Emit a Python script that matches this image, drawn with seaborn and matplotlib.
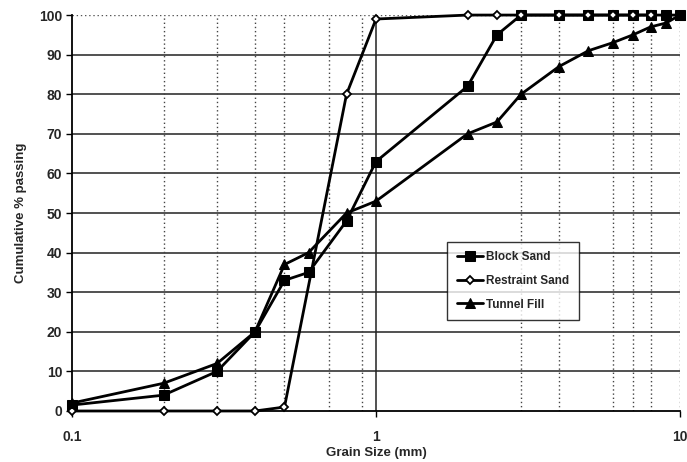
import matplotlib
matplotlib.use("Agg")
import matplotlib.pyplot as plt
import matplotlib.ticker as mticker
import seaborn as sns

# Sieve sizes (mm) and cumulative percent passing for each material
block_size = [0.1, 0.2, 0.3, 0.4, 0.5, 0.6, 0.8, 1, 2, 2.5, 3, 4, 5, 6, 7, 8, 9, 10]
block_pass = [1.5, 4, 10, 20, 33, 35, 48, 63, 82, 95, 100, 100, 100, 100, 100, 100, 100, 100]

restraint_size = [0.1, 0.2, 0.3, 0.4, 0.5, 0.8, 1, 2, 2.5, 3, 4, 5, 6, 7, 8]
restraint_pass = [0, 0, 0, 0, 1, 80, 99, 100, 100, 100, 100, 100, 100, 100, 100]

tunnel_size = [0.1, 0.2, 0.3, 0.4, 0.5, 0.6, 0.8, 1, 2, 2.5, 3, 4, 5, 6, 7, 8, 9, 10]
tunnel_pass = [2, 7, 12, 20, 37, 40, 50, 53, 70, 73, 80, 87, 91, 93, 95, 97, 98, 100]

y_ticks = list(range(0, 101, 10))
x_major = [0.1, 1, 10]
x_minor = [0.2, 0.3, 0.4, 0.5, 0.7, 0.9, 3, 4, 6, 7, 8]

sns.set_theme(style="white")
plt.rcParams["font.family"] = ["Liberation Sans", "DejaVu Sans"]
plt.rcParams["font.weight"] = "bold"

fig = plt.figure(figsize=(6.87, 4.62), dpi=100)
ax = fig.add_axes([0.1048, 0.1104, 0.885, 0.857])

common = dict(color="black", linewidth=2.0, clip_on=False, zorder=3)
sns.lineplot(x=block_size, y=block_pass, ax=ax, marker="s", markersize=6.5,
             markeredgecolor="black", markerfacecolor="black",
             label="Block Sand", **common)
sns.lineplot(x=restraint_size, y=restraint_pass, ax=ax, marker="D", markersize=4.5,
             markeredgecolor="black", markerfacecolor="white", markeredgewidth=1.3,
             label="Restraint Sand", **common)
sns.lineplot(x=tunnel_size, y=tunnel_pass, ax=ax, marker="^", markersize=7.5,
             markeredgecolor="black", markerfacecolor="black",
             label="Tunnel Fill", **common)

ax.set_xscale("log")
ax.set_xlim(0.1, 10)
ax.set_ylim(0, 100)
ax.xaxis.set_major_locator(mticker.FixedLocator(x_major))
ax.xaxis.set_major_formatter(mticker.FixedFormatter(["0.1", "1", "10"]))
ax.xaxis.set_minor_locator(mticker.FixedLocator(x_minor))
ax.xaxis.set_minor_formatter(mticker.NullFormatter())
ax.set_yticks(y_ticks)

# Horizontal grid: solid major lines; top edge dotted
for yv in y_ticks[1:-1]:
    ax.axhline(yv, color="#222222", linewidth=1.1, zorder=1)
ax.axhline(100, color="#555555", linewidth=1.0, linestyle=(0, (1, 2)), zorder=1)

# Vertical grid: solid at 1 mm, dotted at minor sizes and right edge
ax.axvline(1, color="#222222", linewidth=1.1, zorder=1)
for xv in x_minor + [10]:
    ax.axvline(xv, color="#444444", linewidth=1.0, linestyle=(0, (1, 2)), zorder=1)

for side in ["top", "right"]:
    ax.spines[side].set_visible(False)
for side in ["left", "bottom"]:
    ax.spines[side].set_color("black")
    ax.spines[side].set_linewidth(1.3)

ax.tick_params(axis="both", which="major", direction="out", length=4, width=1,
               color="black", labelsize=10, pad=3, bottom=True, left=True)
ax.tick_params(axis="x", which="minor", length=0)
ax.tick_params(axis="x", pad=10)
for lbl in ax.get_xticklabels() + ax.get_yticklabels():
    lbl.set_fontweight("bold")

ax.set_xlabel("Grain Size (mm)", fontsize=9.5, fontweight="bold", labelpad=2)
ax.set_ylabel("Cumulative % passing", fontsize=9.5, fontweight="bold", labelpad=9)

leg = ax.legend(loc="upper left", bbox_to_anchor=(0.617, 0.428), frameon=True,
                fancybox=False, edgecolor="black", fontsize=8.5,
                handlelength=2.2, handletextpad=0.3, borderpad=0.8,
                labelspacing=1.0, borderaxespad=0)
leg.get_frame().set_linewidth(1.0)
for t in leg.get_texts():
    t.set_fontweight("bold")

fig.savefig("out.png", dpi=100, facecolor="white")
